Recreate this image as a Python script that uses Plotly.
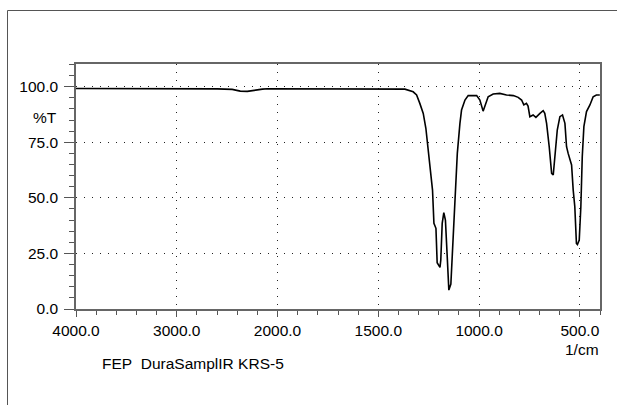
import plotly.graph_objects as go

# ---- data ----
wavenumber = [4000, 3800, 3600, 3400, 3200, 3000, 2800, 2600, 2450, 2400, 2370, 2300,
              2250, 2200, 2150, 2100, 2000, 1900, 1800, 1700, 1600, 1500, 1420, 1368,
              1327, 1310, 1294, 1277, 1264, 1252, 1241, 1231, 1224, 1214, 1208, 1194,
              1190, 1183, 1175, 1167, 1158, 1150, 1140, 1131, 1121, 1108, 1095, 1087,
              1070, 1054, 1012, 996, 980, 966, 955, 930, 897, 864, 830, 806, 789, 778,
              765, 757, 748, 732, 718, 698, 682, 674, 665, 652, 640, 632, 624, 612, 599,
              586, 574, 566, 558, 546, 541, 533, 525, 517, 512, 503, 495, 488, 480, 467,
              450, 434, 418, 401]
transmittance = [99.2, 99.2, 99.2, 99.1, 99.1, 99.1, 99.0, 99.0, 98.8, 98.3, 98.0, 97.9,
                 98.3, 98.8, 98.9, 99.1, 99.1, 99.0, 99.2, 99.0, 99.1, 99.1, 99.0, 98.9,
                 97.7, 96.3, 92.5, 88.0, 81.3, 71.5, 62.5, 53.5, 38.5, 36.3, 20.8, 18.7,
                 22.0, 38.5, 43.3, 40.0, 23.5, 8.5, 11.2, 28.0, 50.5, 70.0, 83.5, 89.5,
                 94.0, 96.0, 96.0, 94.0, 89.0, 92.5, 95.5, 96.7, 97.0, 96.3, 96.0, 95.2,
                 94.0, 91.8, 92.5, 91.3, 86.5, 87.3, 86.2, 88.0, 89.2, 88.0, 83.5, 73.0,
                 61.0, 60.3, 70.0, 80.5, 86.5, 87.3, 83.5, 73.0, 70.0, 67.0, 64.8, 53.5,
                 46.0, 29.5, 29.0, 31.0, 46.0, 68.5, 82.0, 88.8, 91.8, 95.5, 96.3, 96.3]

x_tick_wavenumbers = [4000, 3000, 2000, 1500, 1000, 500]
x_tick_labels = ["4000.0", "3000.0", "2000.0", "1500.0", "1000.0", "500.0"]
y_tick_values = [0, 25, 50, 75, 100]
y_tick_labels = ["0.0", "25.0", "50.0", "75.0", "100.0"]
sample_label = "FEP\u00a0 DuraSamplIR KRS-5"


def axis_pos(w):
    # spectrometer scale: 4000-2000 compressed, 2000-400 expanded 2x
    return (4000 - w) if w >= 2000 else 2000 + 2 * (2000 - w)


xs = [axis_pos(w) for w in wavenumber]
tickvals = [axis_pos(w) for w in x_tick_wavenumbers]

FONT = "Liberation Sans, Arial, sans-serif"
FS = 15.5
W, H = 617, 405
L, R, T, B = 76, 17, 64, 96
pw, ph = W - L - R, H - T - B

fig = go.Figure()
fig.add_trace(go.Scatter(x=xs, y=transmittance, mode="lines",
                         line=dict(color="black", width=1.6), hoverinfo="skip",
                         showlegend=False))

grid_dash = "1px,7px"
fig.update_xaxes(range=[0, axis_pos(400)], tickmode="array", tickvals=tickvals,
                 ticktext=x_tick_labels, ticks="outside", ticklen=6, tickwidth=1,
                 tickcolor="#555", showline=True, mirror=True, linecolor="#666",
                 linewidth=1.5, showgrid=True, gridcolor="#222", gridwidth=1,
                 griddash=grid_dash, zeroline=False, ticklabelstandoff=1,
                 minor=dict(tickmode="linear", tick0=0, dtick=200, ticks="outside",
                            ticklen=4, tickcolor="#555", showgrid=False),
                 tickfont=dict(family=FONT, size=FS, color="black"))
fig.update_yaxes(range=[0, ph / 2.223],
                 tickmode="array", tickvals=y_tick_values, ticktext=y_tick_labels,
                 ticks="outside", ticklen=10, tickwidth=1, tickcolor="#555",
                 showline=True, mirror=True, linecolor="#666", linewidth=1.5,
                 showgrid=True, gridcolor="#222", gridwidth=1, griddash=grid_dash,
                 zeroline=False, ticklabelstandoff=3,
                 minor=dict(tickmode="linear", tick0=0, dtick=5, ticks="outside",
                            ticklen=5, tickcolor="#555", showgrid=False),
                 tickfont=dict(family=FONT, size=FS, color="black"))


def px_x(p):
    return (p - L) / pw


def px_y(p):
    return (T + ph - p) / ph


fig.add_annotation(text="%T", xref="paper", yref="paper", x=px_x(59), y=px_y(117),
                   xanchor="right", yanchor="middle", showarrow=False,
                   font=dict(family=FONT, size=FS, color="black"))
fig.add_annotation(text="1/cm", xref="paper", yref="paper", x=px_x(601), y=px_y(349),
                   xanchor="right", yanchor="middle", showarrow=False,
                   font=dict(family=FONT, size=FS, color="black"))
fig.add_annotation(text=sample_label, xref="paper", yref="paper", x=px_x(100),
                   y=px_y(363), xanchor="left", yanchor="middle", showarrow=False,
                   font=dict(family=FONT, size=FS, color="black"))

# outer frame (top and left edges visible)
fig.add_shape(type="line", xref="paper", yref="paper", x0=px_x(7.5), x1=px_x(640),
              y0=px_y(10.5), y1=px_y(10.5), line=dict(color="#555", width=1))
fig.add_shape(type="line", xref="paper", yref="paper", x0=px_x(7.5), x1=px_x(7.5),
              y0=px_y(10.5), y1=px_y(440), line=dict(color="#555", width=1))

fig.update_layout(width=W, height=H, margin=dict(l=L, r=R, t=T, b=B),
                  paper_bgcolor="white", plot_bgcolor="white",
                  font=dict(family=FONT, size=FS, color="black"))

fig.write_html("out.html", config={"displayModeBar": False},
               post_script="document.body.style.margin='0';")
